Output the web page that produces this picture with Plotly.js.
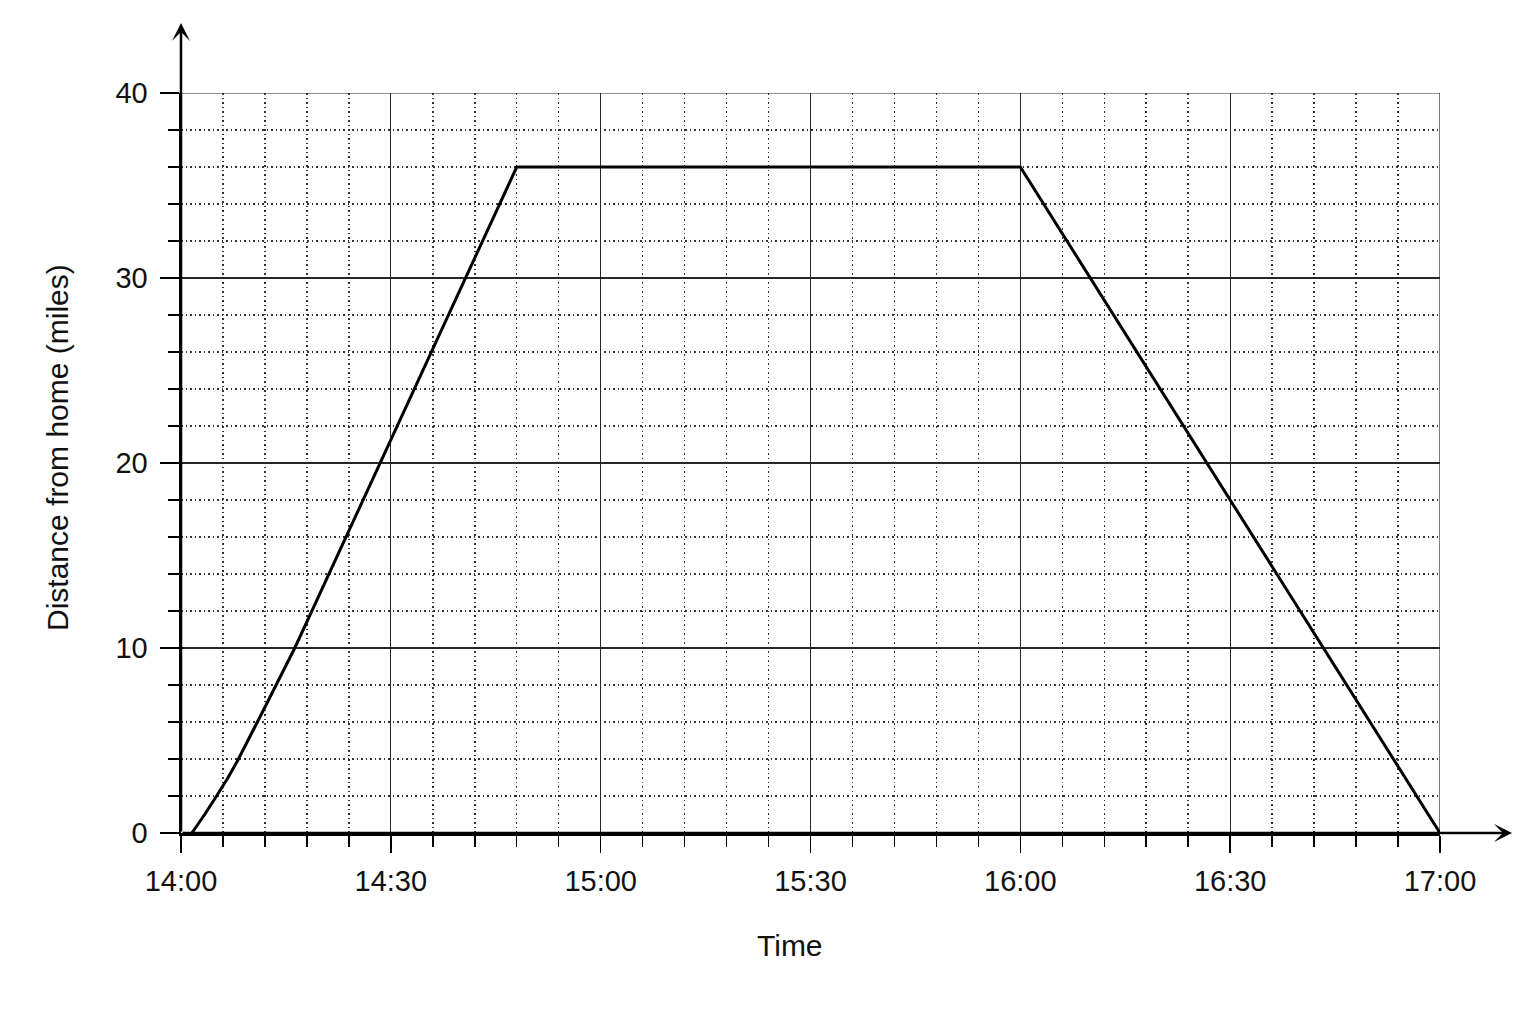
<!DOCTYPE html>
<html>
<head>
<meta charset="utf-8">
<script src="https://cdn.plot.ly/plotly-3.0.1.min.js"></script>
<style>
  html, body { margin: 0; padding: 0; background: #fff; }
  #chart { width: 1536px; height: 1024px; }
</style>
</head>
<body>
<div id="chart"></div>
<script>
// Distance-time graph: journey out, stop, journey home.
const DAY = "2000-01-01 ";
const TIMES = [
  "14:01:33", "14:03:23", "14:05:05", "14:06:44", "14:08:13", "14:09:36",
  "14:10:59", "14:12:16", "14:13:36", "14:14:53", "14:16:16",
  "14:48:00", "16:00:00", "17:00:00",
];
const DISTANCE = [0, 1, 2, 3, 4, 5, 6, 7, 8, 9, 10, 36, 36, 0];

const X_RANGE = ["14:00", "17:00"];
const Y_RANGE = [0, 40];

const INK = "#000";
const FONT = "'Liberation Sans', Arial, sans-serif";
const HALF_HOUR = 30 * 60 * 1000;
const SIX_MIN = 6 * 60 * 1000;
const GRID = "#262626";

const axisCommon = {
  showline: true, linecolor: INK, linewidth: 2.5,
  ticks: "outside", tickcolor: INK, tickwidth: 1.5,
  showgrid: true, gridcolor: GRID, gridwidth: 1.2,
  zeroline: false, fixedrange: true,
  tickfont: { family: FONT, size: 29, color: "#111" },
};

const minorCommon = {
  ticks: "outside", ticklen: 11, tickcolor: INK, tickwidth: 1.5,
  showgrid: true, gridcolor: "#333", gridwidth: 1.5, griddash: "1.5px,3px",
};

const traces = [
  {
    type: "scatter", mode: "lines",
    x: TIMES.map((t) => DAY + t), y: DISTANCE,
    line: { color: INK, width: 3 },
    hoverinfo: "skip",
  },
];

// Plotly drops the grid lines that sit on the far edges; put them back.
const edge = { type: "line", layer: "between", line: { color: GRID, width: 1.2 } };

const layout = {
  width: 1536, height: 1024,
  margin: { l: 181, r: 96, t: 93, b: 191 },
  paper_bgcolor: "#fff", plot_bgcolor: "#fff",
  showlegend: false,
  font: { family: FONT, color: "#111" },
  xaxis: {
    ...axisCommon,
    type: "date",
    range: X_RANGE.map((t) => DAY + t),
    tick0: DAY + X_RANGE[0], dtick: HALF_HOUR, tickformat: "%H:%M",
    ticklen: 17, ticklabelstandoff: 4,
    minor: { ...minorCommon, dtick: SIX_MIN, tick0: DAY + X_RANGE[0] },
  },
  yaxis: {
    ...axisCommon,
    range: Y_RANGE, dtick: 10, tick0: 0,
    ticklen: 19, ticklabelstandoff: 6,
    minor: { ...minorCommon, dtick: 2, tick0: 0 },
  },
  shapes: [
    { ...edge, xref: "paper", x0: 0, x1: 1, yref: "y", y0: Y_RANGE[1], y1: Y_RANGE[1] },
    { ...edge, xref: "x", x0: DAY + X_RANGE[1], x1: DAY + X_RANGE[1], yref: "paper", y0: 0, y1: 1 },
  ],
  annotations: [
    // axis titles, placed where the reference puts them
    { xref: "paper", yref: "paper", x: 0.4837, y: -0.1514, text: "Time", showarrow: false,
      xanchor: "center", yanchor: "middle", font: { family: FONT, size: 30, color: "#111" } },
    { xref: "paper", yref: "paper", x: -0.0985, y: 0.5216, text: "Distance from home (miles)", showarrow: false,
      textangle: -90, xanchor: "center", yanchor: "middle", font: { family: FONT, size: 30, color: "#111" } },
    // arrow heads on the axes
    { xref: "paper", yref: "paper", x: 0, y: 1.0946, ax: 0, ay: 810, text: "", showarrow: true,
      arrowhead: 3, arrowsize: 1.2, arrowwidth: 2.5, arrowcolor: INK },
    { xref: "paper", yref: "paper", x: 1.0572, y: 0, ax: -1331, ay: 0, text: "", showarrow: true,
      arrowhead: 3, arrowsize: 1.2, arrowwidth: 2.5, arrowcolor: INK },
  ],
};

Plotly.newPlot("chart", traces, layout, { staticPlot: true, displayModeBar: false });
</script>
</body>
</html>
